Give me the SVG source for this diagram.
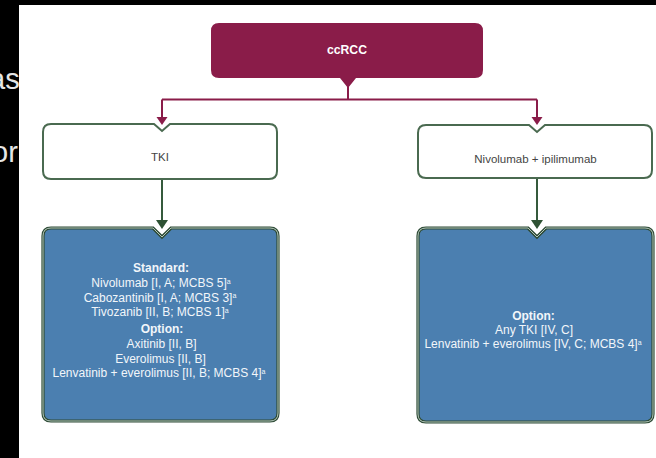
<svg xmlns="http://www.w3.org/2000/svg" width="656" height="458" viewBox="0 0 656 458">
<defs>
<style>
.bg{fill:#000}
.panel{fill:#fff}
.side{font-family:"Liberation Sans",Arial,sans-serif;font-size:29px;fill:#e6e6e6}
.cond{font-family:"Liberation Sans Narrow","Liberation Sans",Arial,sans-serif}
.title{font-size:12px;font-weight:bold;fill:#fff;text-anchor:middle}
.wtxt{font-size:11.5px;fill:#444;text-anchor:middle}
.btxt{font-size:12px;fill:#f2f6fa;text-anchor:middle}
.bh{font-weight:bold}
.sup{font-size:7px}
.wbox{fill:#fff;stroke:#4a6a50;stroke-width:2}
.bbox{fill:#4b7fb0;stroke:#2e4b36;stroke-width:3.2}
.bline{fill:none;stroke:#d6e6dc;stroke-width:0.8}
.mline{stroke:#8a1c49;stroke-width:2;fill:none}
.gline{stroke:#355a3c;stroke-width:2;fill:none}
.marr{fill:#8a1c49}
.garr{fill:#2e5234}
</style>
</defs>
<rect class="bg" x="0" y="0" width="656" height="458"/>
<text class="side" x="-11" y="89">as</text>
<text class="side" x="-8" y="162">or</text>
<rect class="panel" x="19" y="5" width="637" height="453"/>

<g id="connectors">
<path class="mline" d="M348,86 V99.5 M162,99.5 H537 M162,99.5 V118 M537,99.5 V118"/>
<polygon class="marr" points="156.5,117 167.5,117 162,125"/>
<polygon class="marr" points="531.5,117 542.5,117 537,125"/>
<path class="gline" d="M162,179 V222 M537,178 V222"/>
<polygon class="garr" points="156,220 168,220 162,229"/>
<polygon class="garr" points="531,220 543,220 537,229"/>
</g>

<g id="ccRCC">
<path fill="#8a1c49" d="M219,23 H475 Q483,23 483,31 V70 Q483,78 475,78 H356 L348,88 L340,78 H219 Q211,78 211,70 V31 Q211,23 219,23 Z"/>
<text class="cond title" x="347" y="54" textLength="40" lengthAdjust="spacingAndGlyphs">ccRCC</text>
</g>

<g id="tki">
<path class="wbox" d="M51,124 H154 L162,131 L170,124 H269 Q277,124 277,132 V171 Q277,179 269,179 H51 Q43,179 43,171 V132 Q43,124 51,124 Z"/>
<text class="cond wtxt" x="160" y="161">TKI</text>
</g>

<g id="nivo-ipi">
<path class="wbox" d="M426,125 H529 L537,132 L545,125 H644 Q652,125 652,133 V170 Q652,178 644,178 H426 Q418,178 418,170 V133 Q418,125 426,125 Z"/>
<text class="cond wtxt" x="535.5" y="163">Nivolumab + ipilimumab</text>
</g>

<g id="tki-options">
<path class="bbox" d="M51,228 H153 L162,237 L171,228 H270 Q278,228 278,236 V413 Q278,421 270,421 H51 Q43,421 43,413 V236 Q43,228 51,228 Z"/>
<path class="bline" d="M51,228 H153 L162,237 L171,228 H270 Q278,228 278,236 V413 Q278,421 270,421 H51 Q43,421 43,413 V236 Q43,228 51,228 Z"/>
<text class="cond btxt bh" x="161" y="272">Standard:</text>
<text class="cond btxt" x="161" y="287">Nivolumab [I, A; MCBS 5]<tspan class="sup" dy="-3.5">a</tspan></text>
<text class="cond btxt" x="160" y="301.5">Cabozantinib [I, A; MCBS 3]<tspan class="sup" dy="-3.5">a</tspan></text>
<text class="cond btxt" x="160" y="316">Tivozanib [II, B; MCBS 1]<tspan class="sup" dy="-3.5">a</tspan></text>
<text class="cond btxt bh" x="162" y="333">Option:</text>
<text class="cond btxt" x="161.5" y="348">Axitinib [II, B]</text>
<text class="cond btxt" x="160.5" y="362.5">Everolimus [II, B]</text>
<text class="cond btxt" x="159" y="377">Lenvatinib + everolimus [II, B; MCBS 4]<tspan class="sup" dy="-3.5">a</tspan></text>
</g>

<g id="nivo-options">
<path class="bbox" d="M426,228 H528 L537,237 L546,228 H645 Q653,228 653,236 V414 Q653,422 645,422 H426 Q418,422 418,414 V236 Q418,228 426,228 Z"/>
<path class="bline" d="M426,228 H528 L537,237 L546,228 H645 Q653,228 653,236 V414 Q653,422 645,422 H426 Q418,422 418,414 V236 Q418,228 426,228 Z"/>
<text class="cond btxt bh" x="533.5" y="320">Option:</text>
<text class="cond btxt" x="534" y="334">Any TKI [IV, C]</text>
<text class="cond btxt" x="533" y="348">Lenvatinib + everolimus [IV, C; MCBS 4]<tspan class="sup" dy="-3.5">a</tspan></text>
</g>
</svg>
